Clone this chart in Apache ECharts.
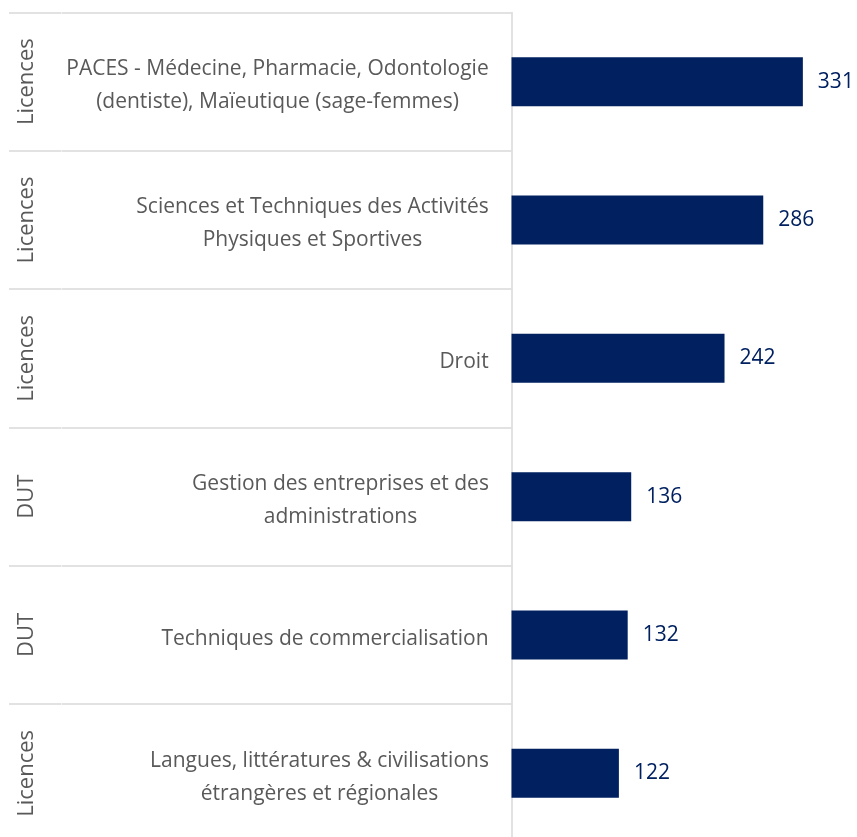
<!DOCTYPE html>
<html><head><meta charset="utf-8">
<script src="https://cdn.jsdelivr.net/npm/echarts@6/dist/echarts.min.js"></script>
<style>html,body{margin:0;padding:0;background:#fff}#c{width:857px;height:837px}</style>
</head><body><div id="c"></div>
<script>
const categories = [
  "PACES - Médecine, Pharmacie, Odontologie\n(dentiste), Maïeutique (sage-femmes)",
  "Sciences et Techniques des Activités\nPhysiques et Sportives",
  "Droit",
  "Gestion des entreprises et des\nadministrations",
  "Techniques de commercialisation",
  "Langues, littératures & civilisations\nétrangères et régionales"
];
const groups = ["Licences", "Licences", "Licences", "DUT", "DUT", "Licences"];
const values = [331, 286, 242, 136, 132, 122];

const FONT = "'Open Sans', sans-serif";
const CAT_SIZE = 21;
const ctx = document.createElement('canvas').getContext('2d');
ctx.font = CAT_SIZE + "px 'Open Sans', sans-serif";
const rich = {};
categories.forEach(function (c, i) {
  const w = Math.max.apply(null, c.split('\n').map(function (l) { return ctx.measureText(l).width; }));
  rich['r' + i] = {width: Math.ceil(w) + 1, align: 'center', color: '#595959', fontFamily: FONT, fontSize: CAT_SIZE, lineHeight: 33};
});

const chart = echarts.init(document.getElementById('c'), null, {renderer: 'canvas'});
chart.setOption({
  animation: false,
  grid: {left: 511.5, right: 11, top: 12.5, bottom: -5.5, containLabel: false, outerBoundsMode: 'none'},
  xAxis: {type: 'value', min: 0, max: 380, show: false},
  yAxis: [
    {
      type: 'category', inverse: true, data: categories, position: 'left',
      axisLine: {show: true, lineStyle: {color: '#d9d9d9', width: 1.5}},
      axisTick: {show: true, length: 450, lineStyle: {color: '#d9d9d9', width: 1.5}},
      axisLabel: {
        margin: 22, color: '#595959', fontFamily: FONT, fontSize: CAT_SIZE, lineHeight: 33, align: 'right',
        padding: [8, 0, 0, 0],
        formatter: function (v, idx) {
          return v.split('\n').map(function (l) { return '{r' + idx + '|' + l + '}'; }).join('\n');
        },
        rich: rich
      },
      splitLine: {show: false}
    },
    {
      type: 'category', inverse: true, data: groups, position: 'left', offset: 450.5,
      axisLine: {show: false},
      axisTick: {show: true, length: 52, lineStyle: {color: '#d9d9d9', width: 1.5}},
      axisLabel: {margin: 23, rotate: 90, color: '#595959', fontFamily: FONT, fontSize: 22},
      splitLine: {show: false}
    }
  ],
  series: [{
    type: 'bar', data: values, yAxisIndex: 0, barWidth: 49,
    itemStyle: {color: '#002060'},
    label: {show: true, position: 'right', distance: 15, color: '#002060', fontFamily: FONT, fontSize: 21}
  }]
});
</script></body></html>
